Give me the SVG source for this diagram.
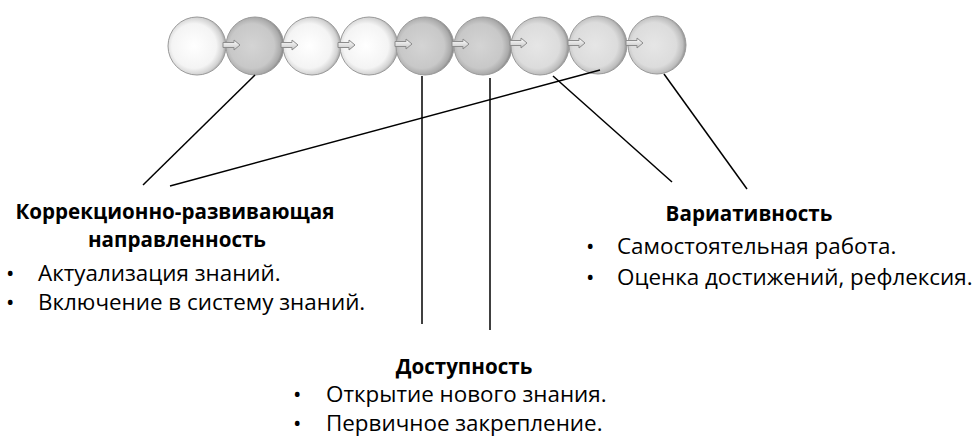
<svg xmlns="http://www.w3.org/2000/svg" width="979" height="439" viewBox="0 0 979 439">
<defs>
<radialGradient id="gW" cx="0.45" cy="0.5" r="0.55">
<stop offset="0" stop-color="#ffffff"/><stop offset="0.7" stop-color="#f4f4f4"/><stop offset="0.9" stop-color="#d2d2d2"/><stop offset="1" stop-color="#a0a0a0"/>
</radialGradient>
<radialGradient id="gL" cx="0.45" cy="0.5" r="0.55">
<stop offset="0" stop-color="#e6e6e6"/><stop offset="0.7" stop-color="#dcdcdc"/><stop offset="0.9" stop-color="#bdbdbd"/><stop offset="1" stop-color="#8e8e8e"/>
</radialGradient>
<radialGradient id="gD" cx="0.45" cy="0.5" r="0.55">
<stop offset="0" stop-color="#d4d4d4"/><stop offset="0.7" stop-color="#c8c8c8"/><stop offset="0.9" stop-color="#aaaaaa"/><stop offset="1" stop-color="#808080"/>
</radialGradient>
<linearGradient id="gA" x1="0" y1="0" x2="0" y2="1">
<stop offset="0" stop-color="#ffffff"/><stop offset="1" stop-color="#c4c4c4"/>
</linearGradient>
<symbol id="arr" overflow="visible"><path d="M0,-2.5 H11 V-5 L17,0 L11,5 V2.5 H0 Z" fill="url(#gA)" stroke="#8c8c8c" stroke-width="1"/></symbol>
</defs>
<style>
.s{stroke:#9a9a9a;stroke-width:1}
.c{stroke:#000;stroke-width:1.5;fill:none}
.h{font-family:"Open Sans","Noto Sans",sans-serif;font-weight:bold;font-size:20.6px;fill:#000;text-anchor:middle}
.t{font-family:"Open Sans","Noto Sans",sans-serif;font-size:22.4px;fill:#000}
</style>
<g id="chain">
<circle cx="197" cy="46" r="29" fill="url(#gW)" class="s"/>
<circle cx="255" cy="46" r="29" fill="url(#gD)" class="s"/>
<circle cx="312" cy="46" r="29" fill="url(#gW)" class="s"/>
<circle cx="369" cy="46" r="29" fill="url(#gW)" class="s"/>
<circle cx="425" cy="46" r="29" fill="url(#gD)" class="s"/>
<circle cx="483" cy="46" r="29" fill="url(#gD)" class="s"/>
<circle cx="540" cy="46" r="29" fill="url(#gL)" class="s"/>
<circle cx="598" cy="45" r="29" fill="url(#gL)" class="s"/>
<circle cx="657" cy="45" r="29" fill="url(#gL)" class="s"/>
<use href="#arr" x="223" y="45"/>
<use href="#arr" x="281" y="45"/>
<use href="#arr" x="338" y="45"/>
<use href="#arr" x="395" y="44"/>
<use href="#arr" x="452" y="44"/>
<use href="#arr" x="510" y="43"/>
<use href="#arr" x="568" y="43"/>
<use href="#arr" x="626" y="43"/>
</g>
<g id="connectors">
<line class="c" x1="255" y1="75" x2="143" y2="185"/>
<line class="c" x1="600" y1="70" x2="170" y2="186"/>
<line class="c" x1="422" y1="76" x2="422" y2="324"/>
<line class="c" x1="490" y1="78" x2="490" y2="330"/>
<line class="c" x1="553" y1="76" x2="672" y2="182"/>
<line class="c" x1="664" y1="74" x2="747" y2="189"/>
</g>
<g id="korr">
<text class="h" x="175" y="219">Коррекционно-развивающая</text>
<text class="h" x="177" y="247">направленность</text>
<text class="t" x="6" y="281">•<tspan x="38">Актуализация знаний.</tspan></text>
<text class="t" x="6" y="310">•<tspan x="38">Включение в систему знаний.</tspan></text>
</g>
<g id="var">
<text class="h" x="749" y="221">Вариативность</text>
<text class="t" x="586" y="254">•<tspan x="617">Самостоятельная работа.</tspan></text>
<text class="t" x="586" y="285">•<tspan x="617">Оценка достижений, рефлексия.</tspan></text>
</g>
<g id="dost">
<text class="h" x="464" y="374">Доступность</text>
<text class="t" x="293" y="402">•<tspan x="326">Открытие нового знания.</tspan></text>
<text class="t" x="293" y="431">•<tspan x="326">Первичное закрепление.</tspan></text>
</g>
</svg>
